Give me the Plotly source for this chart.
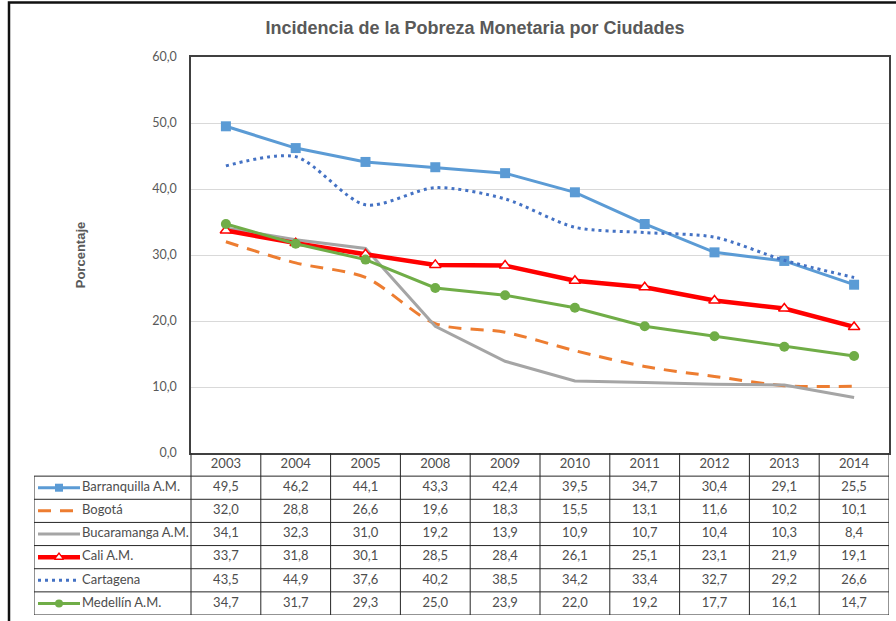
import plotly.graph_objects as go

# datos (DANE) - incidencia de pobreza monetaria
years = ['2003', '2004', '2005', '2008', '2009', '2010', '2011', '2012', '2013', '2014']
cities = ['Barranquilla A.M.', 'Bogotá', 'Bucaramanga A.M.', 'Cali A.M.', 'Cartagena', 'Medellín A.M.']

barranquilla = [49.5, 46.2, 44.1, 43.3, 42.4, 39.5, 34.7, 30.4, 29.1, 25.5]
bogota = [32.0, 28.8, 26.6, 19.6, 18.3, 15.5, 13.1, 11.6, 10.2, 10.1]
bucaramanga = [34.1, 32.3, 31.0, 19.2, 13.9, 10.9, 10.7, 10.4, 10.3, 8.4]
cali = [33.7, 31.8, 30.1, 28.5, 28.4, 26.1, 25.1, 23.1, 21.9, 19.1]
cartagena = [43.5, 44.9, 37.6, 40.2, 38.5, 34.2, 33.4, 32.7, 29.2, 26.6]
medellin = [34.7, 31.7, 29.3, 25.0, 23.9, 22.0, 19.2, 17.7, 16.1, 14.7]

series = [barranquilla, bogota, bucaramanga, cali, cartagena, medellin]

estilos = [
    dict(color='#5b9bd5', width=3, dash='solid', shape='linear', symbol='square', size=10, fill='#5b9bd5'),
    dict(color='#ed7d31', width=3, dash='13px,9px', shape='spline', symbol=None, size=0, fill=None),
    dict(color='#a5a5a5', width=3, dash='solid', shape='linear', symbol=None, size=0, fill=None),
    dict(color='#ff0000', width=4.5, dash='solid', shape='linear', symbol='triangle-up', size=10, fill='white'),
    dict(color='#4472c4', width=3, dash='3px,4px', shape='spline', symbol=None, size=0, fill=None),
    dict(color='#70ad47', width=3, dash='solid', shape='linear', symbol='circle', size=10, fill='#70ad47'),
]

W, H = 896, 621
px_x = lambda p: p / W
px_y = lambda p: 1 - p / H

# posiciones (px) del area de grafico y de la tabla
plot_l, plot_r, plot_t, plot_b = 191, 889, 57, 453
tab_l, tab_b = 34, 615
col_w = (plot_r - plot_l) / len(years)
lab_units = (plot_l - tab_l) / col_w
x2_min = -0.5 - lab_units

fig = go.Figure()

# lineas del grafico
for nombre, vals, st in zip(cities, series, estilos):
    modo = 'lines+markers' if st['symbol'] else 'lines'
    fig.add_trace(go.Scatter(
        x=years, y=vals, mode=modo, name=nombre,
        line=dict(color=st['color'], width=st['width'], dash=st['dash'], shape=st['shape'], smoothing=0.8),
        marker=dict(symbol=st['symbol'] or 'circle', size=st['size'], color=st['fill'] or st['color'],
                    line=dict(color=st['color'], width=1.5 if st['fill'] == 'white' else 0)),
        xaxis='x', yaxis='y', showlegend=False,
    ))

# tabla de datos debajo
tx, ty, tt = [], [], []
for i, y in enumerate(years):
    tx.append(i); ty.append(0); tt.append(y)
for r, vals in enumerate(series, start=1):
    for i, v in enumerate(vals):
        tx.append(i); ty.append(r); tt.append(f'{v:.1f}'.replace('.', ','))
fig.add_trace(go.Scatter(x=tx, y=ty, text=tt, mode='text', textposition='middle center',
                         textfont=dict(family='Lato', size=13, color='#4d4d4d'),
                         xaxis='x2', yaxis='y2', showlegend=False, hoverinfo='skip'))

# nombres + muestras de leyenda
leg_a = x2_min + 4 / col_w
leg_b = x2_min + 46 / col_w
leg_m = (leg_a + leg_b) / 2
fig.add_trace(go.Scatter(x=[x2_min + 48 / col_w] * len(cities), y=list(range(1, len(cities) + 1)),
                         text=cities, mode='text', textposition='middle right',
                         textfont=dict(family='Lato', size=13, color='#4d4d4d'),
                         xaxis='x2', yaxis='y2', showlegend=False, hoverinfo='skip'))
for r, st in enumerate(estilos, start=1):
    fig.add_trace(go.Scatter(x=[leg_a, leg_b], y=[r, r], mode='lines',
                             line=dict(color=st['color'], width=st['width'], dash=st['dash']),
                             xaxis='x2', yaxis='y2', showlegend=False, hoverinfo='skip'))
    if st['symbol']:
        fig.add_trace(go.Scatter(x=[leg_m], y=[r], mode='markers',
                                 marker=dict(symbol=st['symbol'], size=st['size'] - 2, color=st['fill'],
                                             line=dict(color=st['color'], width=1.5 if st['fill'] == 'white' else 0)),
                                 xaxis='x2', yaxis='y2', showlegend=False, hoverinfo='skip'))

# bordes de la tabla
borde = dict(color='#262626', width=1)
n = len(cities)
shapes = []
for r in range(n + 1):
    shapes.append(dict(type='line', xref='x2', yref='y2', x0=x2_min, x1=len(years) - 0.5,
                       y0=r + 0.5, y1=r + 0.5, line=borde))
for k in range(len(years) + 1):
    shapes.append(dict(type='line', xref='x2', yref='y2', x0=k - 0.5, x1=k - 0.5,
                       y0=-0.5, y1=n + 0.5, line=borde))
shapes.append(dict(type='line', xref='x2', yref='y2', x0=x2_min, x1=x2_min, y0=0.5, y1=n + 0.5, line=borde))
# marco exterior del grafico
shapes.append(dict(type='rect', xref='paper', yref='paper', x0=px_x(9), x1=1.2, y0=-0.2, y1=px_y(2.5),
                   line=dict(color='#111111', width=2.5), layer='above'))

fig.update_layout(
    width=W, height=H,
    margin=dict(l=0, r=0, t=0, b=0, autoexpand=False),
    paper_bgcolor='white', plot_bgcolor='white',
    separators=',.',
    font=dict(family='Lato', size=12, color='#595959'),
    title=dict(text='<b>Incidencia de la Pobreza Monetaria por Ciudades</b>',
               x=px_x(475), y=px_y(28), xanchor='center', yanchor='middle',
               font=dict(family='Liberation Sans', size=18, color='#595959')),
    xaxis=dict(domain=[px_x(plot_l), px_x(plot_r)], range=[-0.5, len(years) - 0.5],
               type='category', showticklabels=False, showgrid=False, zeroline=False, automargin=False,
               showline=True, mirror=True, linecolor='#404040', linewidth=1.5),
    yaxis=dict(domain=[px_y(plot_b), px_y(plot_t)], range=[0, 60], dtick=10, tickformat='.1f',
               gridcolor='#d9d9d9', zeroline=False, showline=True, mirror=True, automargin=False,
               linecolor='#404040', linewidth=1.5, ticklabelstandoff=10,
               tickfont=dict(family='Lato', size=12.5, color='#595959'),
               title=dict(text='<b>Porcentaje</b>', standoff=64,
                          font=dict(family='Liberation Sans', size=13, color='#595959'))),
    xaxis2=dict(domain=[px_x(tab_l), px_x(plot_r)], range=[x2_min, len(years) - 0.5],
                anchor='y2', visible=False, automargin=False),
    yaxis2=dict(domain=[px_y(tab_b), px_y(plot_b)], range=[n + 0.5, -0.5],
                anchor='x2', visible=False, automargin=False),
    shapes=shapes,
)

# quitar el margen por defecto del <body>
fig.write_html('out.html', config={'displayModeBar': False},
               post_script="document.body.style.margin='0';")
